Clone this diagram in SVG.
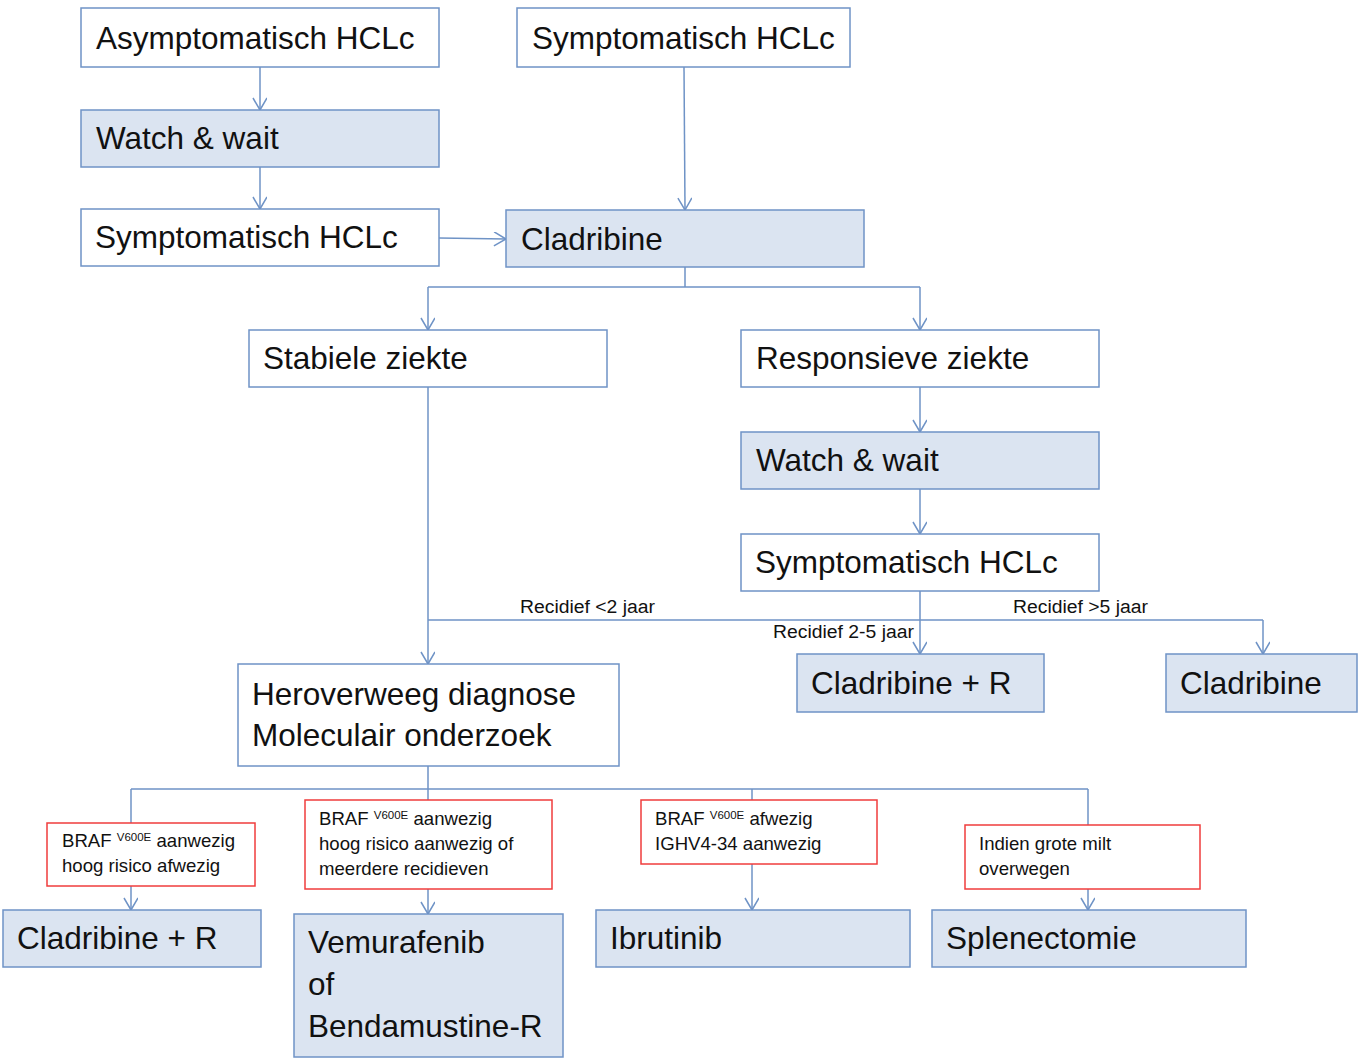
<svg xmlns="http://www.w3.org/2000/svg" width="1358" height="1059" viewBox="0 0 1358 1059">
<style>
.box{fill:#ffffff;stroke:#6f93c6;stroke-width:1.5}
.fill{fill:#dbe4f1;stroke:#6f93c6;stroke-width:1.5}
.red{fill:#ffffff;stroke:#f03c3c;stroke-width:1.5}
.t{font-family:"Liberation Sans",Arial,sans-serif;font-size:31.5px;fill:#111}
.s{font-family:"Liberation Sans",Arial,sans-serif;font-size:18.6px;fill:#111}
.sup{font-size:11.5px}
.lbl{font-family:"Liberation Sans",Arial,sans-serif;font-size:18px;fill:#111}
.c{fill:none;stroke:#6f93c6;stroke-width:1.5}
.a{fill:none;stroke:#6f93c6;stroke-width:1.5;marker-end:url(#arr)}
</style>
<defs>
<marker id="arr" markerUnits="userSpaceOnUse" markerWidth="16" markerHeight="16" refX="13" refY="7" orient="auto">
<path d="M1,0 L13,7 L1,14" fill="none" stroke="#6f93c6" stroke-width="1.5"/>
</marker>
</defs>
<g id="connectors">
<path class="a" d="M260,67 V110"/>
<path class="a" d="M260,167 V209"/>
<path class="a" d="M439,238 L506,239"/>
<path class="a" d="M684,67 L685,210"/>
<path class="c" d="M685,267 V287 M428,287 H920"/>
<path class="a" d="M428,287 V330"/>
<path class="a" d="M920,287 V330"/>
<path class="a" d="M920,387 V432"/>
<path class="a" d="M920,489 V534"/>
<path class="a" d="M428,387 V664"/>
<path class="c" d="M920,591 V620 M428,620 H1263"/>
<path class="a" d="M920,620 V654"/>
<path class="a" d="M1263,620 V654"/>
<path class="c" d="M428,766 V789 M131,789 H1088"/>
<path class="c" d="M131,789 V823"/>
<path class="c" d="M428,789 V800"/>
<path class="c" d="M752,789 V800"/>
<path class="c" d="M1088,789 V825"/>
<path class="a" d="M131,886 V910"/>
<path class="a" d="M428,889 V914"/>
<path class="a" d="M752,864 V910"/>
<path class="a" d="M1088,889 V910"/>
<text class="lbl" x="520" y="613" textLength="135" lengthAdjust="spacingAndGlyphs">Recidief &lt;2 jaar</text>
<text class="lbl" x="1013" y="613" textLength="135" lengthAdjust="spacingAndGlyphs">Recidief &gt;5 jaar</text>
<text class="lbl" x="773" y="638" textLength="141" lengthAdjust="spacingAndGlyphs">Recidief 2-5 jaar</text>
</g>
<g id="asym"><rect class="box" x="81" y="8" width="358" height="59"/><text class="t" x="96" y="49">Asymptomatisch HCLc</text></g>
<g id="ww1"><rect class="fill" x="81" y="110" width="358" height="57"/><text class="t" x="96" y="149">Watch &amp; wait</text></g>
<g id="sym1"><rect class="box" x="81" y="209" width="358" height="57"/><text class="t" x="95" y="248">Symptomatisch HCLc</text></g>
<g id="sym0"><rect class="box" x="517" y="8" width="333" height="59"/><text class="t" x="532" y="49">Symptomatisch HCLc</text></g>
<g id="clad1"><rect class="fill" x="506" y="210" width="358" height="57"/><text class="t" x="521" y="250">Cladribine</text></g>
<g id="stab"><rect class="box" x="249" y="330" width="358" height="57"/><text class="t" x="263" y="369">Stabiele ziekte</text></g>
<g id="resp"><rect class="box" x="741" y="330" width="358" height="57"/><text class="t" x="756" y="369">Responsieve ziekte</text></g>
<g id="ww2"><rect class="fill" x="741" y="432" width="358" height="57"/><text class="t" x="756" y="471">Watch &amp; wait</text></g>
<g id="sym2"><rect class="box" x="741" y="534" width="358" height="57"/><text class="t" x="755" y="573">Symptomatisch HCLc</text></g>
<g id="herov"><rect class="box" x="238" y="664" width="381" height="102"/><text class="t" x="252" y="705">Heroverweeg diagnose</text><text class="t" x="252" y="746">Moleculair onderzoek</text></g>
<g id="cladR1"><rect class="fill" x="797" y="654" width="247" height="58"/><text class="t" x="811" y="694">Cladribine + R</text></g>
<g id="clad2"><rect class="fill" x="1166" y="654" width="191" height="58"/><text class="t" x="1180" y="694">Cladribine</text></g>
<g id="cond1"><rect class="red" x="47" y="823" width="208" height="63"/><text class="s" x="62" y="847">BRAF <tspan class="sup" dy="-6">V600E</tspan><tspan dy="6"> aanwezig</tspan></text><text class="s" x="62" y="872">hoog risico afwezig</text></g>
<g id="cond2"><rect class="red" x="305" y="800" width="247" height="89"/><text class="s" x="319" y="825">BRAF <tspan class="sup" dy="-6">V600E</tspan><tspan dy="6"> aanwezig</tspan></text><text class="s" x="319" y="850">hoog risico aanwezig of</text><text class="s" x="319" y="875">meerdere recidieven</text></g>
<g id="cond3"><rect class="red" x="641" y="800" width="236" height="64"/><text class="s" x="655" y="825">BRAF <tspan class="sup" dy="-6">V600E</tspan><tspan dy="6"> afwezig</tspan></text><text class="s" x="655" y="850">IGHV4-34 aanwezig</text></g>
<g id="cond4"><rect class="red" x="965" y="825" width="235" height="64"/><text class="s" x="979" y="850">Indien grote milt</text><text class="s" x="979" y="875">overwegen</text></g>
<g id="cladR2"><rect class="fill" x="3" y="910" width="258" height="57"/><text class="t" x="17" y="949">Cladribine + R</text></g>
<g id="vemu"><rect class="fill" x="294" y="914" width="269" height="143"/><text class="t" x="308" y="953">Vemurafenib</text><text class="t" x="308" y="995">of</text><text class="t" x="308" y="1037">Bendamustine-R</text></g>
<g id="ibru"><rect class="fill" x="596" y="910" width="314" height="57"/><text class="t" x="610" y="949">Ibrutinib</text></g>
<g id="splen"><rect class="fill" x="932" y="910" width="314" height="57"/><text class="t" x="946" y="949">Splenectomie</text></g>
</svg>
